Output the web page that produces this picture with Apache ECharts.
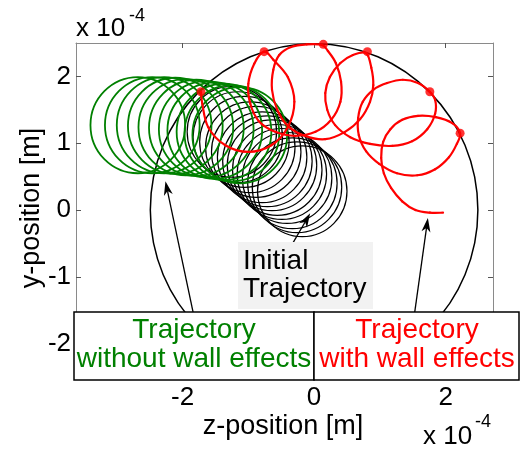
<!DOCTYPE html>
<html><head><meta charset="utf-8">
<script src="https://cdn.jsdelivr.net/npm/echarts@6/dist/echarts.min.js"></script>
<style>html,body{margin:0;padding:0;background:#fff}#c{width:520px;height:452px}</style>
</head><body><div id="c"></div>
<script>
// tick values (units of 1e-4 m)
const xTicks = [-2, 0, 2];
const yTicks = [-2, -1, 0, 1, 2];
// wall (tube cross-section): centre x, centre y, radius
const wallX = [0], wallY = [0], wallR = [2.49];
// initial trajectory loops (black): loop centres and radius
const blackLoopX = [-0.18, -0.26, -0.33, -0.41, -0.49, -0.56, -0.64, -0.71, -0.79, -0.88, -0.97, -1.06, -1.16, -1.25];
const blackLoopY = [0.28, 0.34, 0.40, 0.48, 0.54, 0.60, 0.67, 0.73, 0.79, 0.87, 0.94, 1.02, 1.09, 1.17];
const blackLoopR = [0.68, 0.68, 0.68, 0.68, 0.68, 0.68, 0.68, 0.68, 0.68, 0.68, 0.68, 0.68, 0.68, 0.68];
// trajectory without wall effects (green): loop centres and radius
const greenLoopX = [-2.68, -2.46, -2.28, -2.11, -1.95, -1.79, -1.64, -1.51, -1.37, -1.25, -1.13];
const greenLoopY = [1.27, 1.27, 1.27, 1.26, 1.24, 1.23, 1.21, 1.19, 1.17, 1.15, 1.12];
const greenLoopR = [0.72, 0.72, 0.72, 0.72, 0.72, 0.72, 0.72, 0.72, 0.72, 0.72, 0.72];
// trajectory with wall effects (red)
const redPathX = [-1.72,-1.70,-1.61,-1.35,-1.00,-0.65,-0.40,-0.30,-0.40,-0.62,-0.76,
  -0.91,-1.00,-0.97,-0.84,-0.59,-0.29,0.02,0.26,0.40,0.41,0.33,0.21,0.12,
  -0.11,-0.35,-0.53,-0.62,-0.64,-0.56,-0.40,-0.14,0.17,0.47,0.70,0.85,0.90,0.87,0.79,
  0.59,0.40,0.24,0.17,0.20,0.32,0.55,0.85,1.19,1.49,1.72,1.84,1.84,1.76,
  1.58,1.35,1.11,0.90,0.74,0.67,0.68,0.79,0.99,1.26,1.57,1.84,2.05,2.17,2.22,
  2.10,1.85,1.58,1.34,1.16,1.05,1.02,1.06,1.17,1.34,1.54,1.76,1.96];
const redPathY = [1.77,1.59,1.24,0.97,0.87,0.97,1.24,1.62,1.99,2.25,2.37,
  2.19,1.89,1.59,1.33,1.17,1.11,1.17,1.35,1.62,1.92,2.20,2.38,2.47,
  2.48,2.44,2.32,2.10,1.80,1.50,1.26,1.11,1.06,1.17,1.36,1.62,1.87,2.13,2.35,
  2.32,2.20,1.99,1.75,1.50,1.27,1.09,0.99,0.96,1.03,1.21,1.44,1.65,1.77,
  1.90,1.95,1.90,1.80,1.62,1.38,1.12,0.88,0.69,0.55,0.52,0.61,0.79,0.99,1.15,
  1.30,1.39,1.41,1.35,1.21,1.02,0.78,0.55,0.33,0.13,0.00,-0.04,-0.04];
// wall contact points
const redDotX = [-1.72, -0.76, 0.14, 0.81, 1.76, 2.22];
const redDotY = [1.77, 2.37, 2.48, 2.37, 1.77, 1.15];
// annotation arrows: tail -> tip
const arrowX0 = [-1.84, -0.35, 1.53];
const arrowY0 = [-1.53, -0.54, -1.53];
const arrowX1 = [-2.26, -0.06, 1.73];
const arrowY1 = [0.43, -0.05, -0.12];

const FONT = '"Liberation Sans", Arial, sans-serif';
const zip3 = (a, b, c) => a.map((v, i) => [v, b[i], c[i]]);

function ellipseRender(color, width) {
  return function (params, api) {
    const c = api.coord([api.value(0), api.value(1)]);
    const s = api.size([api.value(2), api.value(2)]);
    return {
      type: 'ellipse',
      shape: { cx: c[0], cy: c[1], rx: s[0], ry: s[1] },
      style: { fill: 'none', stroke: color, lineWidth: width }
    };
  };
}
// smooth curve through the data points (Catmull-Rom drawn as cubic Bezier segments)
function curveRender(xs, ys, color, width) {
  return function (params, api) {
    const p = xs.map((x, i) => api.coord([x, ys[i]]));
    const n = p.length, kids = [];
    for (let i = 0; i < n - 1; i++) {
      const p0 = p[Math.max(i - 1, 0)], p1 = p[i], p2 = p[i + 1], p3 = p[Math.min(i + 2, n - 1)];
      kids.push({
        type: 'bezierCurve',
        shape: {
          x1: p1[0], y1: p1[1], x2: p2[0], y2: p2[1],
          cpx1: p1[0] + (p2[0] - p0[0]) / 6, cpy1: p1[1] + (p2[1] - p0[1]) / 6,
          cpx2: p2[0] - (p3[0] - p1[0]) / 6, cpy2: p2[1] - (p3[1] - p1[1]) / 6
        },
        style: { fill: 'none', stroke: color, lineWidth: width, lineCap: 'round' }
      });
    }
    return { type: 'group', children: kids };
  };
}
function arrowRender(params, api) {
  const p0 = api.coord([api.value(0), api.value(1)]);
  const p1 = api.coord([api.value(2), api.value(3)]);
  const dx = p1[0] - p0[0], dy = p1[1] - p0[1];
  const L = Math.sqrt(dx * dx + dy * dy);
  const ux = dx / L, uy = dy / L, nx = -uy, ny = ux;
  const hl = 14, hw = 4.5;
  const bx = p1[0] - ux * hl, by = p1[1] - uy * hl;
  return {
    type: 'group',
    children: [
      { type: 'line', shape: { x1: p0[0], y1: p0[1], x2: bx + ux * 4, y2: by + uy * 4 }, style: { stroke: '#000', lineWidth: 1.3 } },
      { type: 'polygon', shape: { points: [[p1[0], p1[1]], [bx + nx * hw, by + ny * hw], [bx + ux * 4, by + uy * 4], [bx - nx * hw, by - ny * hw]] }, style: { fill: '#000' } }
    ]
  };
}

const axisGray = '#8a8a8a';
const chart = echarts.init(document.getElementById('c'));
const baseX = {
  type: 'value', min: -3.62, max: 2.72, splitLine: { show: false },
  axisLine: { show: true, onZero: false, lineStyle: { color: axisGray, width: 1 } },
  axisTick: { show: true, inside: true, length: 5, customValues: xTicks, lineStyle: { color: '#555' } }
};
const baseY = {
  type: 'value', min: -2.5, max: 2.5, splitLine: { show: false },
  axisLine: { show: true, onZero: false, lineStyle: { color: axisGray, width: 1 } },
  axisTick: { show: true, inside: true, length: 5, customValues: yTicks, lineStyle: { color: '#555' } }
};
chart.setOption({
  animation: false,
  backgroundColor: '#fff',
  grid: { left: 76, right: 27, top: 43, bottom: 75 },
  xAxis: [
    Object.assign({}, baseX, { position: 'bottom',
      axisLabel: { customValues: xTicks, fontSize: 26, color: '#000', fontFamily: FONT, margin: 8 } }),
    Object.assign({}, baseX, { position: 'top', axisLabel: { show: false } })
  ],
  yAxis: [
    Object.assign({}, baseY, { position: 'left',
      axisLabel: { customValues: yTicks, fontSize: 26, color: '#000', fontFamily: FONT, margin: 5 } }),
    Object.assign({}, baseY, { position: 'right', axisLabel: { show: false } })
  ],
  series: [
    { type: 'custom', name: 'wall', renderItem: ellipseRender('#000', 1.5),
      data: zip3(wallX, wallY, wallR), encode: { x: 0, y: 1 }, z: 1, silent: true },
    { type: 'custom', name: 'initial', renderItem: ellipseRender('#000', 1.2),
      data: zip3(blackLoopX, blackLoopY, blackLoopR), encode: { x: 0, y: 1 }, z: 2, silent: true },
    { type: 'custom', name: 'without wall', renderItem: ellipseRender('#008000', 1.8),
      data: zip3(greenLoopX, greenLoopY, greenLoopR), encode: { x: 0, y: 1 }, z: 3, silent: true },
    { type: 'custom', name: 'with wall', renderItem: curveRender(redPathX, redPathY, '#ff0000', 2.2),
      data: [[redPathX[0], redPathY[0]]], encode: { x: 0, y: 1 }, z: 4, silent: true },
    { type: 'scatter', data: redDotX.map((x, i) => [x, redDotY[i]]), symbolSize: 9,
      itemStyle: { color: '#ff0000' }, z: 5, silent: true },
    { type: 'custom', name: 'arrows', renderItem: arrowRender,
      data: arrowX0.map((x, i) => [x, arrowY0[i], arrowX1[i], arrowY1[i]]), encode: { x: [0, 2], y: [1, 3] }, z: 6, silent: true }
  ],
  graphic: [
    { type: 'text', x: 76, y: 29, z: 100, style: { text: 'x 10', font: '26px ' + FONT, fill: '#000', align: 'left', verticalAlign: 'middle' } },
    { type: 'text', x: 129, y: 16, z: 100, style: { text: '-4', font: '18px ' + FONT, fill: '#000', align: 'left', verticalAlign: 'middle' } },
    { type: 'text', x: 423, y: 437, z: 100, style: { text: 'x 10', font: '26px ' + FONT, fill: '#000', align: 'left', verticalAlign: 'middle' } },
    { type: 'text', x: 475, y: 422, z: 100, style: { text: '-4', font: '18px ' + FONT, fill: '#000', align: 'left', verticalAlign: 'middle' } },
    { type: 'text', x: 32, y: 208, rotation: Math.PI / 2, z: 100, style: { text: 'y-position [m]', font: '27px ' + FONT, fill: '#000', align: 'center', verticalAlign: 'middle' } },
    { type: 'text', x: 283, y: 427, z: 100, style: { text: 'z-position [m]', font: '27px ' + FONT, fill: '#000', align: 'center', verticalAlign: 'middle' } },
    { type: 'rect', z: 100, shape: { x: 238, y: 242, width: 135, height: 67 }, style: { fill: '#f2f2f2' } },
    { type: 'text', x: 243, y: 261, z: 101, style: { text: 'Initial', font: '28px ' + FONT, fill: '#000', align: 'left', verticalAlign: 'middle' } },
    { type: 'text', x: 243, y: 289, z: 101, style: { text: 'Trajectory', font: '28px ' + FONT, fill: '#000', align: 'left', verticalAlign: 'middle' } },
    { type: 'rect', z: 100, shape: { x: 74, y: 312, width: 240, height: 68 }, style: { fill: '#fff', stroke: '#000', lineWidth: 1.5 } },
    { type: 'rect', z: 100, shape: { x: 314, y: 312, width: 205, height: 68 }, style: { fill: '#fff', stroke: '#000', lineWidth: 1.5 } },
    { type: 'text', x: 194, y: 330, z: 101, style: { text: 'Trajectory', font: '28px ' + FONT, fill: '#008000', align: 'center', verticalAlign: 'middle' } },
    { type: 'text', x: 194, y: 359, z: 101, style: { text: 'without wall effects', font: '28px ' + FONT, fill: '#008000', align: 'center', verticalAlign: 'middle' } },
    { type: 'text', x: 417, y: 330, z: 101, style: { text: 'Trajectory', font: '28px ' + FONT, fill: '#ff0000', align: 'center', verticalAlign: 'middle' } },
    { type: 'text', x: 417, y: 359, z: 101, style: { text: 'with wall effects', font: '28px ' + FONT, fill: '#ff0000', align: 'center', verticalAlign: 'middle' } }
  ]
});
</script></body></html>
